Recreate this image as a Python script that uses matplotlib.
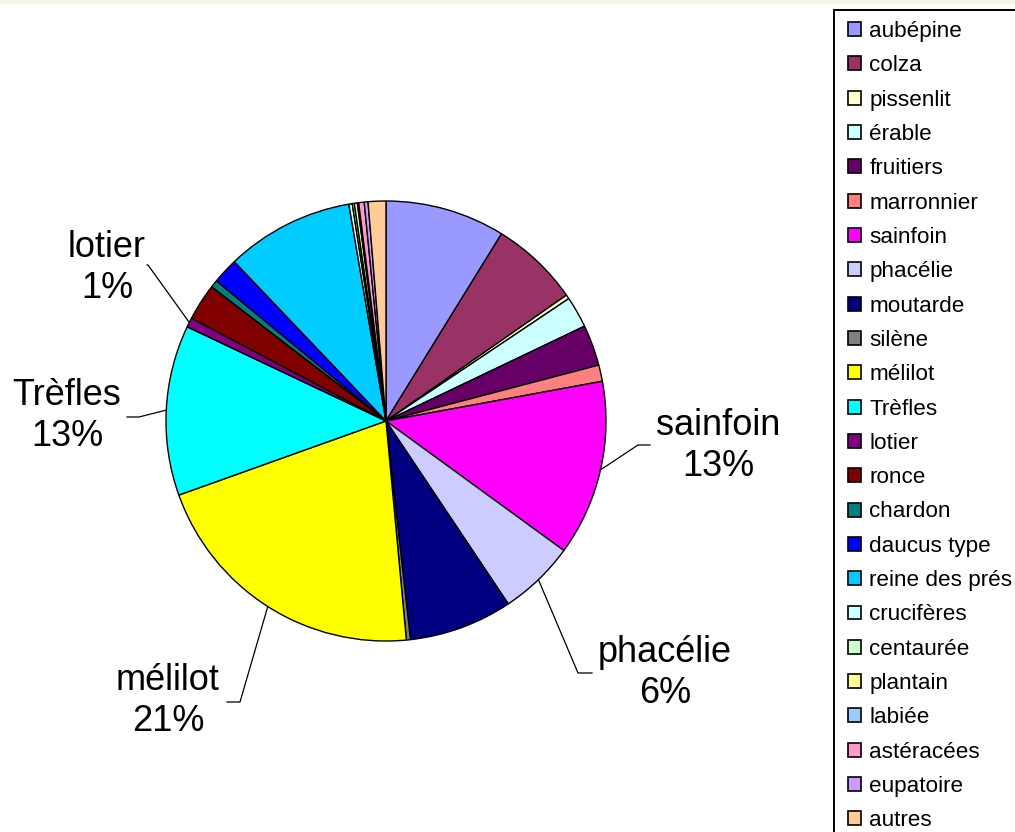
import numpy as np
import matplotlib
matplotlib.use("Agg")
import matplotlib.pyplot as plt
from matplotlib.patches import Rectangle

plt.rcParams['font.family'] = ['Liberation Sans', 'DejaVu Sans']

categories = ["aubépine", "colza", "pissenlit", "érable", "fruitiers", "marronnier",
              "sainfoin", "phacélie", "moutarde", "silène", "mélilot", "Trèfles",
              "lotier", "ronce", "chardon", "daucus type", "reine des prés",
              "crucifères", "centaurée", "plantain", "labiée", "astéracées",
              "eupatoire", "autres"]
values = [8.8, 6.5, 0.3, 2.3, 3.0, 1.2,
          12.9, 5.6, 7.6, 0.3, 21.0, 12.5,
          0.7, 2.7, 0.55, 1.9, 9.4,
          0.25, 0.15, 0.22, 0.1, 0.4,
          0.28, 1.3]
colors = ["#9999FF", "#993366", "#FFFFCC", "#CCFFFF", "#660066", "#FF8080",
          "#FF00FF", "#CCCCFF", "#000080", "#808080", "#FFFF00", "#00FFFF",
          "#800080", "#800000", "#008080", "#0000FF", "#00CCFF",
          "#CCFFFF", "#CCFFCC", "#FFFF99", "#99CCFF", "#FF99CC",
          "#CC99FF", "#FFCC99"]
labelled = ["sainfoin", "phacélie", "mélilot", "Trèfles", "lotier"]

W, H = 1015, 832
fig = plt.figure(figsize=(W / 100, H / 100), dpi=100)
fig.patch.set_facecolor("white")
fig.patches.append(Rectangle((0, 1 - 4 / H), 1, 4 / H, transform=fig.transFigure,
                             facecolor="#F7F4EC", edgecolor="none", zorder=0))
# legend frame (runs off the right and bottom edges as in the original)
fig.patches.append(Rectangle((834 / W, -0.05), 0.3, 1.05 - 10 / H, transform=fig.transFigure,
                             facecolor="white", edgecolor="black", linewidth=1.4, zorder=1))

cx, cy, R = 386, 421, 220
ax = fig.add_axes([(cx - R) / W, (H - cy - R) / H, 2 * R / W, 2 * R / H])
wedges, _ = ax.pie(values, colors=colors, startangle=90, counterclock=False, radius=1,
                   wedgeprops=dict(edgecolor="black", linewidth=1.0))
ax.set_xlim(-1, 1)
ax.set_ylim(-1, 1)
ax.set_aspect("equal")
ax.axis("off")

total = sum(values)

def px(x, y):
    return ((x - cx) / R, (cy - y) / R)

# layout of label annotations (pixel positions): elbow, end, text centre
layout = {
    "sainfoin": ((638, 445), (650, 445), (718, 446)),
    "phacélie": ((578, 673), (592, 673), (665, 673)),
    "mélilot": ((240, 702), (227, 702), (168, 701)),
    "Trèfles": ((139, 417), (127, 417), (67, 416)),
    "lotier": ((148, 265), (147, 265), (107, 268)),
}
for name in labelled:
    i = categories.index(name)
    w = wedges[i]
    mid = np.deg2rad((w.theta1 + w.theta2) / 2)
    x0, y0 = np.cos(mid), np.sin(mid)
    e, f, t = layout[name]
    ex, ey = px(*e)
    fx, fy = px(*f)
    tx, ty = px(*t)
    ax.plot([x0, ex, fx], [y0, ey, fy], color="black", lw=0.9, clip_on=False)
    pct = round(values[i] / total * 100)
    ax.text(tx, ty, f"{name}\n{pct}%", ha="center", va="center", fontsize=26,
            linespacing=1.25, clip_on=False)

leg = fig.legend(wedges, categories, loc="upper left",
                 bbox_to_anchor=(848 / W, 1 - 21 / H), bbox_transform=fig.transFigure,
                 fontsize=16.2, frameon=False,
                 handlelength=0.58, handleheight=0.58, handletextpad=0.37,
                 labelspacing=0.592, borderpad=0, borderaxespad=0)
leg.set_zorder(5)
for h in leg.legend_handles:
    h.set_linewidth(1.2)

fig.savefig("out.png", dpi=100)
